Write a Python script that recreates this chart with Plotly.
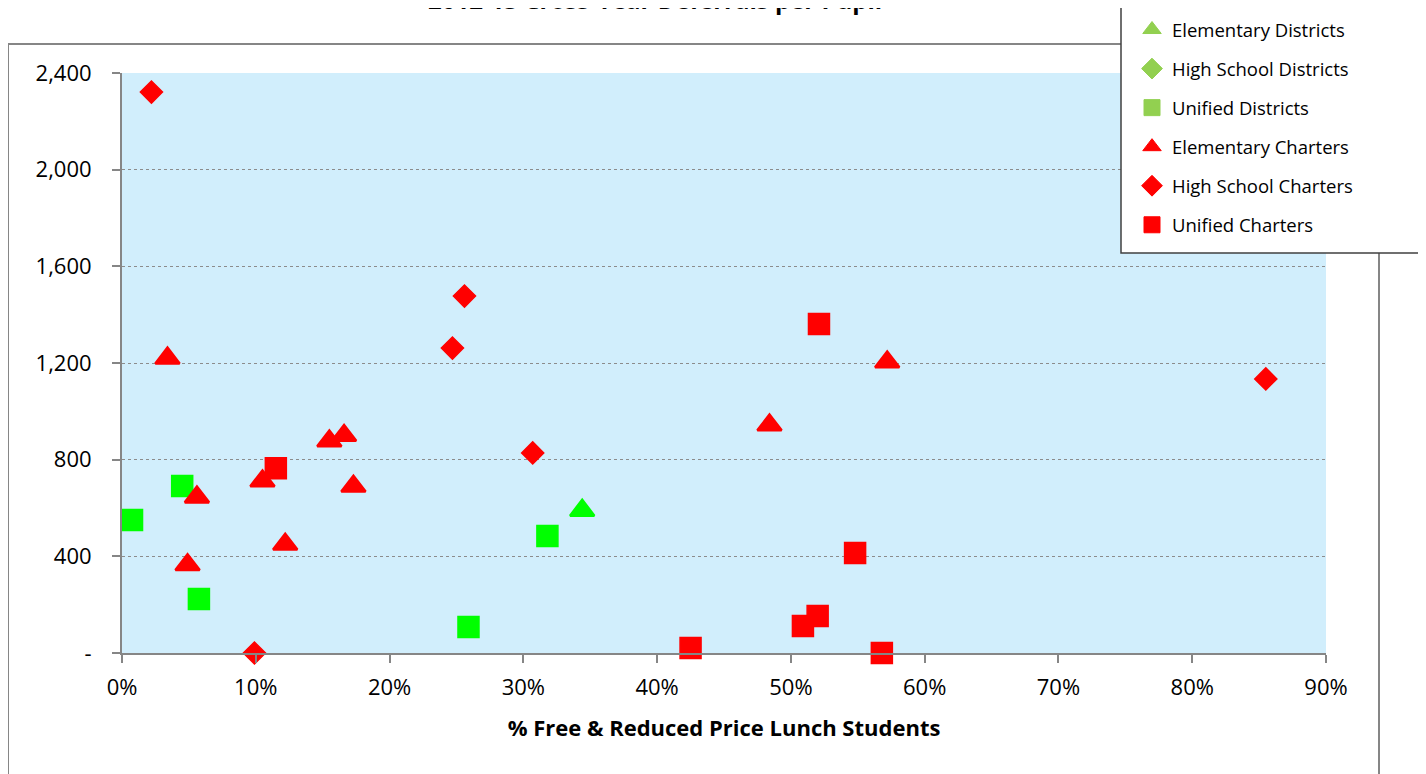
import plotly.graph_objects as go

# Data: x = % free & reduced price lunch (fraction), y = cross-year deferrals per pupil
elem_dist_x = [0.344]
elem_dist_y = [590]
hs_dist_x = []
hs_dist_y = []
unif_dist_x = [0.0075, 0.045, 0.0575, 0.259, 0.318]
unif_dist_y = [550, 691, 223, 108, 484]
elem_chart_x = [0.034, 0.056, 0.049, 0.105, 0.122, 0.155, 0.166, 0.173, 0.484, 0.572]
elem_chart_y = [1220, 645, 365, 712, 450, 877, 900, 690, 943, 1204]
hs_chart_x = [0.022, 0.099, 0.256, 0.247, 0.307, 0.855]
hs_chart_y = [2321, 0, 1477, 1262, 828, 1134]
unif_chart_x = [0.115, 0.521, 0.548, 0.520, 0.509, 0.425, 0.568]
unif_chart_y = [765, 1361, 414, 153, 112, 21, 0]

y_ticks = [0, 400, 800, 1200, 1600, 2000, 2400]
y_tick_text = ["-", "400", "800", "1,200", "1,600", "2,000", "2,400"]

title_text = "2012-13 Cross-Year Deferrals per Pupil"
x_title = "% Free & Reduced Price Lunch Students"

GREEN_PT = "#00FF00"
GREEN_LG = "#92D050"
RED = "#FF0000"
FONT = "Open Sans"

series = [
    ("Elementary Districts", elem_dist_x, elem_dist_y, "triangle-up", GREEN_PT, GREEN_LG, 21),
    ("High School Districts", hs_dist_x, hs_dist_y, "diamond", GREEN_PT, GREEN_LG, 17),
    ("Unified Districts", unif_dist_x, unif_dist_y, "square", GREEN_PT, GREEN_LG, 21),
    ("Elementary Charters", elem_chart_x, elem_chart_y, "triangle-up", RED, RED, 21),
    ("High School Charters", hs_chart_x, hs_chart_y, "diamond", RED, RED, 17),
    ("Unified Charters", unif_chart_x, unif_chart_y, "square", RED, RED, 21),
]

fig = go.Figure()
for name, xs, ys, sym, col, lcol, sz in series:
    lw = 2.5 if sym == "triangle-up" else 1.5
    fig.add_trace(go.Scatter(
        x=xs, y=ys, mode="markers", name=name, showlegend=False,
        cliponaxis=False,
        marker=dict(symbol=sym, size=sz, color=col, line=dict(color=col, width=lw)),
    ))
# legend-only entries (legend uses different swatch colours than points)
for name, xs, ys, sym, col, lcol, sz in series:
    fig.add_trace(go.Scatter(
        x=[None], y=[None], mode="markers", name=name, legendgroup=name,
        marker=dict(symbol=sym, size=16, color=lcol, line=dict(color=lcol, width=1)),
    ))

W, H = 1426, 774
OFF = 8  # page body offset in the screenshot
ml, mt = 122 - OFF, 73 - OFF
pw, ph = 1204, 580
mr, mb = W - ml - pw, H - mt - ph

def px_x(p):
    return (p - OFF - ml) / pw

def px_y(p):
    return (mt + ph - (p - OFF)) / ph

fig.update_layout(
    width=W, height=H,
    margin=dict(l=ml, r=mr, t=mt, b=mb, autoexpand=False),
    paper_bgcolor="white",
    plot_bgcolor="#D1EEFC",
    font=dict(family=FONT, color="black", size=22),
    showlegend=True,
    legend=dict(
        x=px_x(1132), y=px_y(11), xanchor="left", yanchor="top",
        bgcolor="rgba(0,0,0,0)", borderwidth=0,
        font=dict(family=FONT, size=18.5, color="black"),
        tracegroupgap=12, itemsizing="trace",
    ),
    xaxis=dict(
        range=[0, 0.9], dtick=0.1, tick0=0, tickformat=".0%",
        showgrid=False, zeroline=False,
        showline=True, linecolor="#868686", linewidth=2,
        ticks="outside", ticklen=8, tickcolor="#868686", tickwidth=2,
        tickfont=dict(family=FONT, size=22, color="black"),
        ticklabelstandoff=6,
        title=dict(text="<b>" + x_title + "</b>", font=dict(family=FONT, size=22, color="black"), standoff=20),
        fixedrange=True,
    ),
    yaxis=dict(
        range=[0, 2400], tickvals=y_ticks, ticktext=y_tick_text,
        showgrid=True, gridcolor="#8C8C8C", gridwidth=1, griddash="dot",
        zeroline=False,
        showline=True, linecolor="#868686", linewidth=2,
        ticks="outside", ticklen=8, tickcolor="#868686", tickwidth=2,
        tickfont=dict(family=FONT, size=22, color="black"),
        ticklabelstandoff=16,
        fixedrange=True,
    ),
    annotations=[dict(
        text="<b>" + title_text + "</b>", x=px_x(655), xref="paper", y=px_y(-1), yref="paper",
        xanchor="center", yanchor="middle", showarrow=False,
        font=dict(family=FONT, size=24, color="black"),
    )],
    shapes=[
        # outer chart frame
        dict(type="rect", xref="paper", yref="paper",
             x0=px_x(8), x1=px_x(1379), y0=px_y(800), y1=px_y(44),
             line=dict(color="#868686", width=2), fillcolor="rgba(0,0,0,0)", layer="below"),
        # legend box
        dict(type="rect", xref="paper", yref="paper",
             x0=px_x(1121), x1=px_x(1421), y0=px_y(253), y1=px_y(4),
             line=dict(color="#404040", width=1.5), fillcolor="white", layer="above"),
    ],
)

fig.write_html("out.html")
